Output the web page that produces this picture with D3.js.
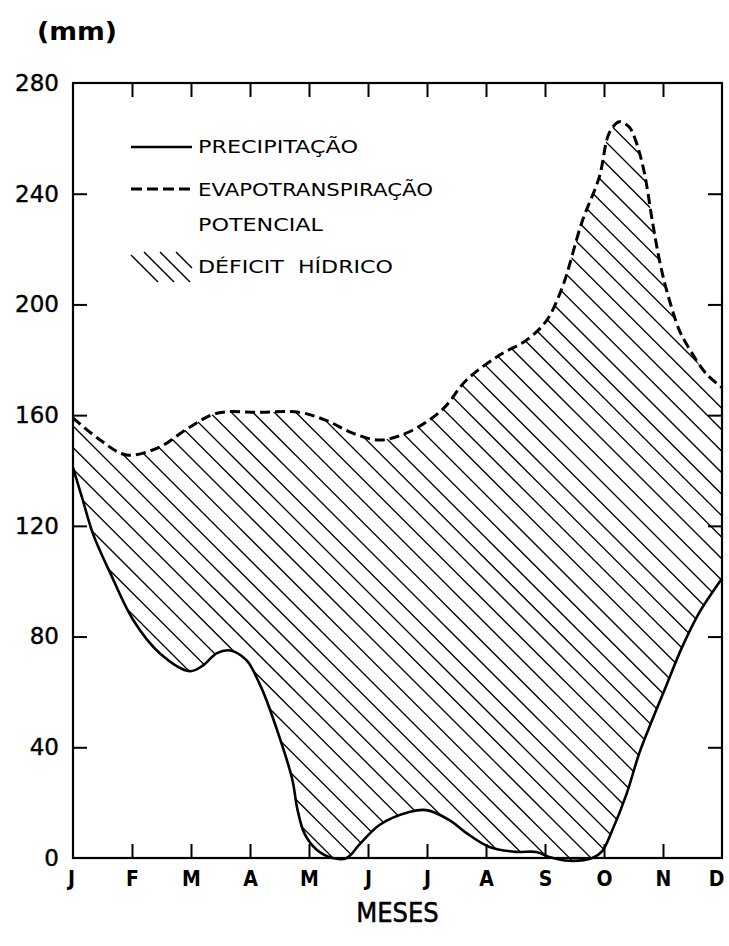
<!DOCTYPE html>
<html>
<head>
<meta charset="utf-8">
<script src="https://cdn.jsdelivr.net/npm/d3@7/dist/d3.min.js"></script>
<style>
  html, body { margin: 0; padding: 0; background: #fff; }
  svg { display: block; }
  text { fill: #000; }
</style>
</head>
<body>
<script>
// Monthly axis labels and value ticks
const months = ["J", "F", "M", "A", "M", "J", "J", "A", "S", "O", "N", "D"];
const valueTicks = [0, 40, 80, 120, 160, 200, 240, 280];
const innerTicks = [40, 80, 120, 160, 200, 240];

// Precipitation (mm): position along the year in months (0 = J, 11 = D) and value
const precipMonth = [0.00, 0.17, 0.34, 0.63, 1.02, 1.47, 1.98, 2.20, 2.44, 2.66, 2.94, 3.16, 3.28, 3.71, 3.80, 3.92, 4.13, 4.40, 4.64, 4.86, 5.20, 5.70, 5.99, 6.38, 6.67, 7.06, 7.51, 7.85, 8.07, 8.41, 8.80, 8.97, 9.14, 9.38, 9.60, 9.82, 10.05, 10.32, 10.61, 11.00];
const precipMm    = [141, 129, 117, 103, 86, 74, 67.5, 69.5, 74, 75, 71.5, 63, 57, 29, 18, 9, 3, 0, 0, 5, 12, 16.6, 17.3, 13.7, 9, 4, 2.2, 2.2, 0.4, -1, 0, 2.5, 10, 23, 38, 50, 62, 76, 88.5, 101];

// Potential evapotranspiration (mm)
const etpMonth = [0.00, 0.46, 0.91, 1.47, 1.93, 2.44, 3.16, 3.84, 4.30, 4.74, 5.20, 5.70, 6.26, 6.67, 7.23, 7.68, 8.02, 8.29, 8.63, 8.92, 9.09, 9.26, 9.43, 9.54, 9.68, 9.82, 9.93, 10.05, 10.27, 10.39, 10.73, 11.00];
const etpMm    = [159, 151, 145.6, 148.5, 155, 160.7, 161, 161, 158, 153.5, 151, 154, 162, 172.7, 181.7, 187, 194, 206, 230, 246, 262, 266, 264, 259, 248, 230, 217, 206, 191, 186, 175, 170];

// Legend entries and titles
const legendLabels = ["PRECIPITAÇÃO", "EVAPOTRANSPIRAÇÃO", "POTENCIAL", "DÉFICIT  HÍDRICO"];
const unitLabel = "(mm)";
const xTitle = "MESES";

const W = 729, H = 946;
const plot = { left: 73, right: 722, top: 83, bottom: 858 };

const svg = d3.select("body").append("svg")
  .attr("width", W).attr("height", H)
  .attr("viewBox", `0 0 ${W} ${H}`);

const x = d3.scaleLinear().domain([0, 11]).range([plot.left, plot.right]);
const y = d3.scaleLinear().domain([0, 280]).range([plot.bottom, plot.top]);

const precipData = precipMonth.map((m, i) => ({ m, v: precipMm[i] }));
const etpData = etpMonth.map((m, i) => ({ m, v: etpMm[i] }));

const curve = d3.curveCatmullRom.alpha(0.5);
const line = d3.line().curve(curve).x(d => x(d.m)).y(d => y(d.v));

// Deficit region = below the evapotranspiration curve and above the precipitation curve
const defs = svg.append("defs");
defs.append("clipPath").attr("id", "below-etp")
  .append("path")
  .attr("d", d3.area().curve(curve)
    .x(d => x(d.m)).y0(plot.bottom + 30).y1(d => y(d.v))(etpData));
defs.append("clipPath").attr("id", "above-precip")
  .append("path")
  .attr("d", d3.area().curve(curve)
    .x(d => x(d.m)).y0(plot.top - 30).y1(d => y(d.v))(precipData));

// Diagonal hatching of the water deficit
const spacing = 21.5;
const offsets = d3.range(-(plot.right - plot.left) - 40, plot.bottom - plot.top + 40, spacing);
svg.append("g").attr("clip-path", "url(#below-etp)")
  .append("g").attr("clip-path", "url(#above-precip)")
  .selectAll("line").data(offsets).join("line")
  .attr("x1", plot.left).attr("y1", c => plot.top + c)
  .attr("x2", plot.right).attr("y2", c => plot.top + c + (plot.right - plot.left))
  .attr("stroke", "#000").attr("stroke-width", 1.3);

// Frame
svg.append("rect")
  .attr("x", plot.left).attr("y", plot.top)
  .attr("width", plot.right - plot.left).attr("height", plot.bottom - plot.top)
  .attr("fill", "none").attr("stroke", "#000").attr("stroke-width", 2.2);

// Inward ticks on all four sides
function styleTicks(g) {
  g.select(".domain").remove();
  g.selectAll(".tick line").attr("stroke", "#000").attr("stroke-width", 2);
  g.selectAll(".tick text").remove();
}
svg.append("g").attr("transform", `translate(${plot.left},0)`)
  .call(d3.axisRight(y).tickValues(innerTicks).tickSize(14)).call(styleTicks);
svg.append("g").attr("transform", `translate(${plot.right},0)`)
  .call(d3.axisLeft(y).tickValues(innerTicks).tickSize(14)).call(styleTicks);
svg.append("g").attr("transform", `translate(0,${plot.top})`)
  .call(d3.axisBottom(x).tickValues(d3.range(1, 11)).tickSize(14)).call(styleTicks);
svg.append("g").attr("transform", `translate(0,${plot.bottom})`)
  .call(d3.axisTop(x).tickValues(d3.range(1, 11)).tickSize(14)).call(styleTicks);

// Value labels
const yLab = svg.append("g").attr("transform", `translate(${plot.left},0)`)
  .call(d3.axisLeft(y).tickValues(valueTicks).tickSize(0).tickPadding(14));
yLab.select(".domain").remove();
yLab.selectAll(".tick text")
  .attr("font-family", "'DejaVu Sans', sans-serif")
  .attr("font-size", 23)
  .attr("stroke", "#000").attr("stroke-width", 0.4)
  .attr("fill", "#000");

// Month labels
const xLab = svg.append("g").attr("transform", `translate(0,${plot.bottom})`)
  .call(d3.axisBottom(x).tickValues(d3.range(0, 12)).tickSize(0).tickPadding(13)
    .tickFormat(i => months[i]));
xLab.select(".domain").remove();
xLab.selectAll(".tick text")
  .attr("font-family", "'DejaVu Sans Condensed', 'Liberation Sans Narrow', sans-serif")
  .attr("font-weight", "bold")
  .attr("font-size", 21)
  .attr("fill", "#000")
  .attr("dx", i => i === 11 ? -6 : (i === 0 ? -2 : 0));

// Curves
svg.append("path").attr("d", line(precipData))
  .attr("fill", "none").attr("stroke", "#000").attr("stroke-width", 2.6)
  .attr("stroke-linejoin", "round");
svg.append("path").attr("d", line(etpData))
  .attr("fill", "none").attr("stroke", "#000").attr("stroke-width", 3)
  .attr("stroke-dasharray", "10,5");

// Titles
svg.append("text").attr("x", 37).attr("y", 32)
  .attr("dominant-baseline", "central")
  .attr("font-family", "'DejaVu Sans', sans-serif")
  .attr("font-weight", "bold").attr("font-size", 24)
  .attr("textLength", 80).attr("lengthAdjust", "spacingAndGlyphs")
  .text(unitLabel);
svg.append("text").attr("x", (plot.left + plot.right) / 2).attr("y", 912)
  .attr("text-anchor", "middle").attr("dominant-baseline", "central")
  .attr("font-family", "'DejaVu Sans Condensed', 'Liberation Sans Narrow', sans-serif")
  .attr("font-size", 27)
  .attr("stroke", "#000").attr("stroke-width", 0.5)
  .text(xTitle);

// Legend
const lg = svg.append("g");
const lx0 = 131, lx1 = 192, tx = 198;
lg.append("line").attr("x1", lx0).attr("x2", lx1).attr("y1", 147).attr("y2", 147)
  .attr("stroke", "#000").attr("stroke-width", 2.6);
lg.append("line").attr("x1", lx0).attr("x2", lx1).attr("y1", 189).attr("y2", 189)
  .attr("stroke", "#000").attr("stroke-width", 3).attr("stroke-dasharray", "11,5");
[0, 1, 2, 3].forEach(i => {
  const x0 = 128 + i * 16;
  const s = Math.max(0, lx0 - x0), e = Math.min(30, lx1 - x0);
  lg.append("line")
    .attr("x1", x0 + s).attr("y1", 252 + s)
    .attr("x2", x0 + e).attr("y2", 252 + e)
    .attr("stroke", "#000").attr("stroke-width", 1.4);
});
const legendY = [147, 190, 225, 267];
const legendW = [160, 235, 125, 195];
legendLabels.forEach((t, i) => {
  lg.append("text").attr("x", tx).attr("y", legendY[i])
    .attr("dominant-baseline", "central")
    .attr("font-family", "'DejaVu Sans', sans-serif")
    .attr("font-size", 17)
    .attr("textLength", legendW[i]).attr("lengthAdjust", "spacingAndGlyphs")
    .attr("xml:space", "preserve")
    .text(t);
});
</script>
</body>
</html>
